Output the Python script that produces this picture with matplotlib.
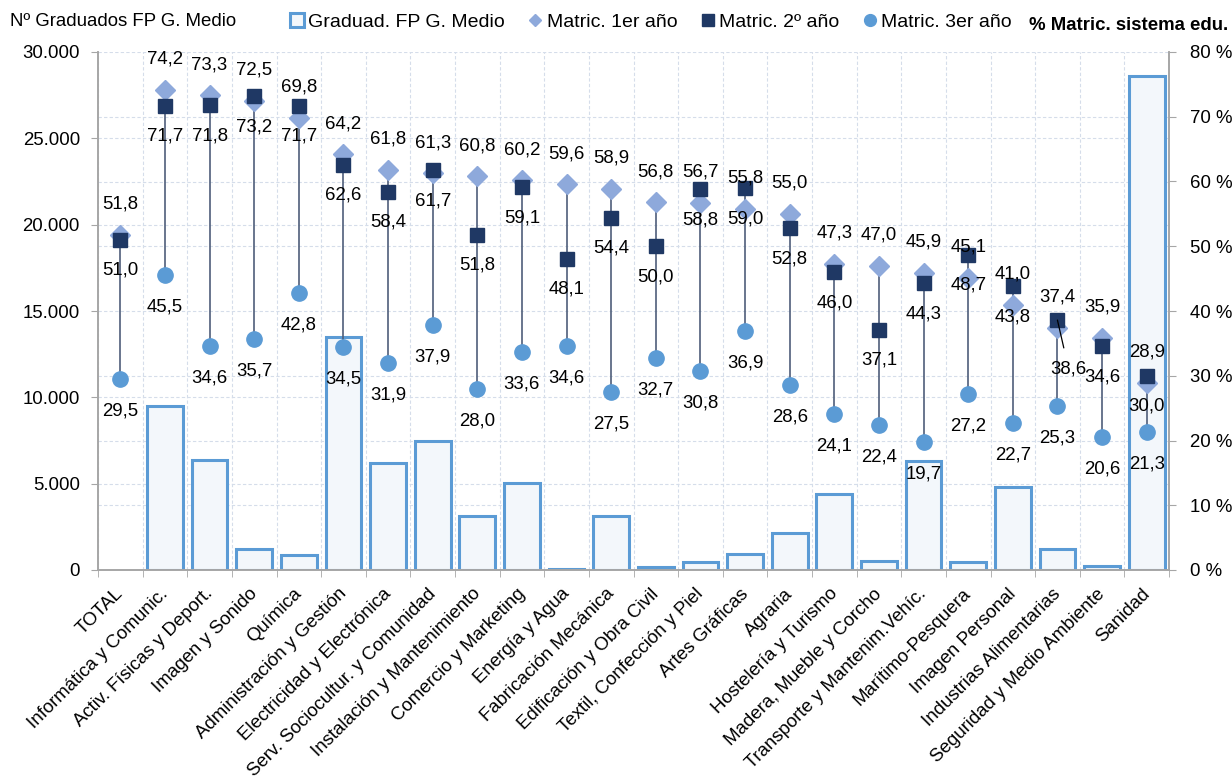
import numpy as np
import matplotlib.pyplot as plt
from matplotlib.lines import Line2D
from matplotlib.ticker import FuncFormatter, FixedLocator, MultipleLocator
from matplotlib.transforms import ScaledTranslation

plt.rcParams['font.family'] = ['Liberation Sans', 'DejaVu Sans']
plt.rcParams['font.size'] = 13.4

categorias = ['TOTAL', 'Informática y Comunic.', 'Activ. Físicas y Deport.', 'Imagen y Sonido',
              'Química', 'Administración y Gestión', 'Electricidad y Electrónica',
              'Serv. Sociocultur. y Comunidad', 'Instalación y Mantenimiento',
              'Comercio y Marketing', 'Energía y Agua', 'Fabricación Mecánica',
              'Edificación y Obra Civil', 'Textil, Confección y Piel', 'Artes Gráficas',
              'Agraria', 'Hostelería y Turismo', 'Madera, Mueble y Corcho',
              'Transporte y Mantenim.Vehíc.', 'Marítimo-Pesquera', 'Imagen Personal',
              'Industrias Alimentarias', 'Seguridad y Medio Ambiente', 'Sanidad']

# graduados FP grado medio (eje izquierdo); TOTAL sin barra
graduados = [np.nan, 9500, 6350, 1200, 850, 13500, 6200, 7500, 3100, 5050, 60, 3100,
             170, 460, 930, 2140, 4400, 520, 6300, 460, 4800, 1200, 250, 28600]

# % matriculados (eje derecho)
matric_1 = [51.8, 74.2, 73.3, 72.5, 69.8, 64.2, 61.8, 61.3, 60.8, 60.2, 59.6, 58.9,
            56.8, 56.7, 55.8, 55.0, 47.3, 47.0, 45.9, 45.1, 41.0, 37.4, 35.9, 28.9]
matric_2 = [51.0, 71.7, 71.8, 73.2, 71.7, 62.6, 58.4, 61.7, 51.8, 59.1, 48.1, 54.4,
            50.0, 58.8, 59.0, 52.8, 46.0, 37.1, 44.3, 48.7, 43.8, 38.6, 34.6, 30.0]
matric_3 = [29.5, 45.5, 34.6, 35.7, 42.8, 34.5, 31.9, 37.9, 28.0, 33.6, 34.6, 27.5,
            32.7, 30.8, 36.9, 28.6, 24.1, 22.4, 19.7, 27.2, 22.7, 25.3, 20.6, 21.3]

c_bar_edge = '#5B9BD5'
c_bar_fill = '#F3F7FB'
c_1 = '#8EA9DB'
c_2 = '#1F3864'
c_3 = '#5B9BD5'
c_drop = '#4F5E7A'
c_grid = '#D5DDEA'
c_spine = '#A6A6A6'

x = np.arange(len(categorias))

fig = plt.figure(figsize=(12.32, 7.78), dpi=100)
ax1 = fig.add_axes([98 / 1232, 1 - 570 / 778, (1169 - 98) / 1232, (570 - 52) / 778])
ax2 = ax1.twinx()

ax1.bar(x, graduados, width=0.8, facecolor=c_bar_fill, edgecolor=c_bar_edge,
        linewidth=2.2, zorder=2)

ax1.set_xlim(-0.5, len(categorias) - 0.5)
ax1.set_ylim(0, 30000)
ax2.set_ylim(0, 80)

# gridlines: left ticks + right ticks (in left units) + category boundaries
ax1.yaxis.set_major_locator(MultipleLocator(5000))
ax1.yaxis.set_minor_locator(FixedLocator(np.arange(0, 30001, 3750)))
ax1.yaxis.set_major_formatter(FuncFormatter(lambda v, p: f'{int(v):,}'.replace(',', '.')))
ax1.grid(which='both', axis='y', color=c_grid, linestyle=(0, (3, 2)), linewidth=0.8, zorder=0)
ax1.set_xticks(x)
ax1.set_xticks(np.arange(-0.5, len(categorias), 1), minor=True)
ax1.grid(which='minor', axis='x', color=c_grid, linestyle=(0, (3, 2)), linewidth=0.8, zorder=0)
ax1.set_axisbelow(True)
ax1.set_xticklabels(categorias, rotation=45, ha='right', va='top', rotation_mode='anchor')
ax1.tick_params(axis='x', which='major', length=0, pad=11)
ax1.tick_params(axis='x', which='minor', length=5, color=c_spine)
ax1.tick_params(axis='y', which='major', length=5, color=c_spine, pad=8)
ax1.tick_params(axis='y', which='minor', length=0)
shift = ScaledTranslation(-4 / 72, 0, fig.dpi_scale_trans)
for lab in ax1.get_xticklabels():
    lab.set_transform(lab.get_transform() + shift)

ax2.yaxis.set_major_locator(MultipleLocator(10))
ax2.yaxis.set_major_formatter(FuncFormatter(lambda v, p: f'{int(v)} %'))
ax2.tick_params(axis='y', length=5, color=c_spine, pad=10)

for ax in (ax1, ax2):
    ax.spines['top'].set_visible(False)
    for s in ('left', 'right', 'bottom'):
        ax.spines[s].set_color(c_spine)
        ax.spines[s].set_linewidth(1.2)

# high-low lines
lo = np.minimum(np.minimum(matric_1, matric_2), matric_3)
hi = np.maximum(np.maximum(matric_1, matric_2), matric_3)
ax2.vlines(x, lo, hi, color=c_drop, linewidth=1.2, zorder=3)

ax2.plot(x, matric_1, linestyle='none', marker='D', markersize=10, color=c_1, zorder=4)
ax2.plot(x, matric_2, linestyle='none', marker='s', markersize=10, color=c_2, zorder=5)
ax2.plot(x, matric_3, linestyle='none', marker='o', markersize=11, color=c_3, zorder=4)

def fmt(v):
    return f'{v:.1f}'.replace('.', ',')

for i in x:
    ax2.annotate(fmt(matric_1[i]), (i, matric_1[i]), xytext=(0, 22), textcoords='offset points',
                 ha='center', va='center', zorder=6)
    if categorias[i] == 'Industrias Alimentarias':
        ax2.annotate(fmt(matric_2[i]), (i, matric_2[i]), xytext=(8, -35), textcoords='offset points',
                     ha='center', va='center', zorder=6,
                     arrowprops=dict(arrowstyle='-', color='black', lw=0.9, shrinkA=7, shrinkB=0))
    else:
        ax2.annotate(fmt(matric_2[i]), (i, matric_2[i]), xytext=(0, -22), textcoords='offset points',
                     ha='center', va='center', zorder=6)
    ax2.annotate(fmt(matric_3[i]), (i, matric_3[i]), xytext=(0, -23), textcoords='offset points',
                 ha='center', va='center', zorder=6)

fig.text(10 / 1232, 1 - 22 / 778, 'Nº Graduados FP G. Medio', ha='left', va='center')
fig.text(1228 / 1232, 1 - 25 / 778, '% Matric. sistema edu.', ha='right', va='center',
         fontweight='bold', fontsize=13.4)

handles = [
    Line2D([], [], linestyle='none', marker='s', markersize=10, markerfacecolor=c_bar_fill,
           markeredgecolor=c_bar_edge, markeredgewidth=2.2),
    Line2D([], [], linestyle='none', marker='D', markersize=6.5, color=c_1),
    Line2D([], [], linestyle='none', marker='s', markersize=9, color=c_2),
    Line2D([], [], linestyle='none', marker='o', markersize=8.5, color=c_3),
]
labels = ['Graduad. FP G. Medio', 'Matric. 1er año', 'Matric. 2º año', 'Matric. 3er año']
fig.legend(handles, labels, loc='center left', bbox_to_anchor=(289 / 1232, 1 - 22 / 778),
           ncol=4, frameon=False, handlelength=0.8, handletextpad=0.2, columnspacing=1.15,
           borderaxespad=0, borderpad=0, fontsize=14)

fig.savefig('out.png', dpi=100)
